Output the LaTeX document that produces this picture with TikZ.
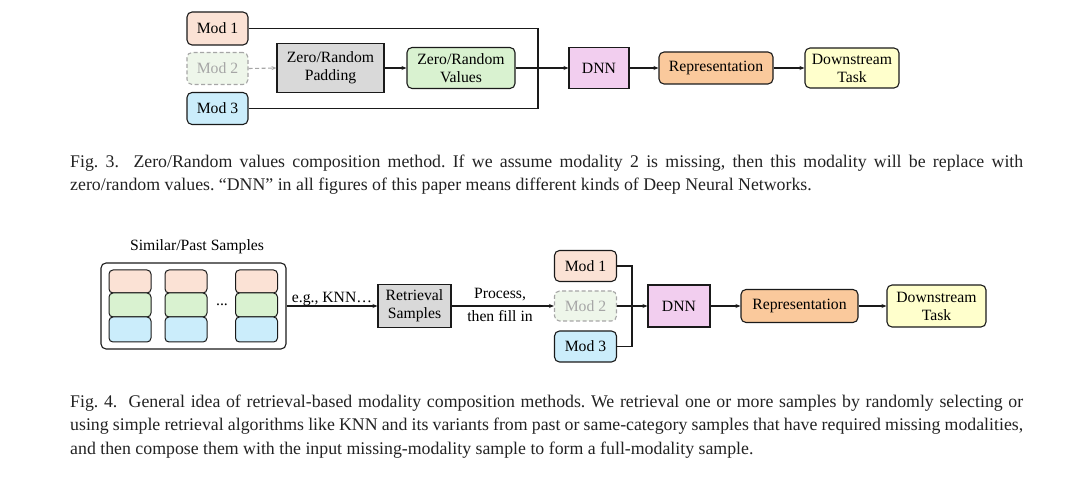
\documentclass[tikz,border=0pt]{standalone}
\usepackage{fontspec}
\setmainfont{Liberation Serif}
\usetikzlibrary{arrows.meta}
\definecolor{cmodA}{HTML}{FBE2D5}
\definecolor{cmodB}{HTML}{EEF6EA}
\definecolor{cmodC}{HTML}{CBEDFB}
\definecolor{cgray}{HTML}{D9D9D9}
\definecolor{cgreen}{HTML}{D9F2D0}
\definecolor{cdnn}{HTML}{F2CEEF}
\definecolor{crep}{HTML}{FAC99C}
\definecolor{ctask}{HTML}{FFFFCC}
\definecolor{cline}{HTML}{1A1A1A}
\definecolor{cfaint}{HTML}{A6A6A6}
\definecolor{ccap}{HTML}{222222}
\begin{document}
\frenchspacing
\begin{tikzpicture}[x=1pt,y=-1pt,
  box/.style={draw=cline, line width=1.1pt, rounded corners=5pt, inner sep=0pt, align=center,
    font=\fontsize{15.7}{18}\selectfont},
  sqbox/.style={box, rounded corners=0pt},
  missbox/.style={box, draw=cfaint, dash pattern=on 4pt off 2.5pt, fill=cmodB, text=cfaint},
  arr/.style={draw=cline, line width=1.1pt, -{Stealth[length=5pt,width=4pt]}},
  conn/.style={draw=cline, line width=1.1pt},
  blk/.style={draw=cline, line width=1pt, rounded corners=4pt, minimum width=42pt, inner sep=0pt},
  lbl/.style={font=\fontsize{15.7}{18}\selectfont, inner sep=1pt, align=center},
  captxt/.style={anchor=base west, inner sep=0pt, text=ccap, font=\fontsize{17.8}{20}\selectfont}
]
\useasboundingbox (0,0) rectangle (1080,486);

% ---------- Fig. 3 ----------
\node[box, fill=cmodA, minimum width=61pt, minimum height=33pt] (m1) at (217.5,28.5) {Mod 1};
\node[missbox, minimum width=61pt, minimum height=32pt] (m2) at (217.5,68.5) {Mod 2};
\node[box, fill=cmodC, minimum width=61pt, minimum height=32pt] (m3) at (217.5,108.5) {Mod 3};
\node[sqbox, fill=cgray, minimum width=107pt, minimum height=49pt] (pad) at (330.5,68) {Zero/Random\\Padding};
\node[box, fill=cgreen, minimum width=108pt, minimum height=41pt] (val) at (461,68) {Zero/Random\\Values};
\node[sqbox, fill=cdnn, minimum width=60pt, minimum height=41pt] (dnn) at (599,68) {DNN};
\node[box, fill=crep, minimum width=114pt, minimum height=32pt] (rep) at (716,68) {Representation};
\node[box, fill=ctask, minimum width=94pt, minimum height=40pt] (task) at (852,68) {Downstream\\Task};
\coordinate (j1) at (538,68);

\draw[arr, draw=cfaint, dash pattern=on 4pt off 2.5pt] (m2.east) -- (pad.west);
\draw[arr] (pad.east) -- (val.west);
\draw[conn] (m1.east) -| (j1);
\draw[conn] (m3.east) -| (j1);
\draw[arr] (val.east) -- (dnn.west);
\draw[arr] (dnn.east) -- (rep.west);
\draw[arr] (rep.east) -- (task.west);

\node[captxt] (c3a) at (70,168) {\makebox[953pt][s]{Fig. 3.\ \ Zero/Random values composition method. If we assume modality 2 is missing, then this modality will be replace with}};
\node[captxt] (c3b) at (70,191) {zero/random values. “DNN” in all figures of this paper means different kinds of Deep Neural Networks.};

% ---------- Fig. 4 ----------
\node[lbl] (ptitle) at (197,247) {Similar/Past Samples};
\node[draw=cline, line width=1.1pt, rounded corners=5pt, minimum width=185pt, minimum height=86pt, inner sep=0pt] (pool) at (193.5,306) {};
% sample columns
\foreach \c/\x in {a/130, b/186, c/256.5} {
  \node[blk, fill=cmodA, minimum height=23pt] (s\c1) at (\x,281.5) {};
  \node[blk, fill=cgreen, minimum height=24pt] (s\c2) at (\x,305) {};
  \node[blk, fill=cmodC, minimum height=25pt] (s\c3) at (\x,329.5) {};
}
\node[lbl] (dots) at (222,305) {...};

\node[sqbox, fill=cgray, minimum width=73pt, minimum height=43pt] (ret) at (414.5,306) {Retrieval\\Samples};
\draw[arr] (pool.east) -- (ret.west) node[lbl, midway, above, yshift=-1pt] (knn) {e.g., KNN…};

\node[box, fill=cmodA, minimum width=62pt, minimum height=31pt] (bm1) at (585.5,266) {Mod 1};
\node[missbox, minimum width=62pt, minimum height=30pt] (bm2) at (585.5,306) {Mod 2};
\node[box, fill=cmodC, minimum width=62pt, minimum height=31pt] (bm3) at (585.5,346.5) {Mod 3};
\draw[arr] (ret.east) -- (bm2.west);
\node[lbl] (proc) at (500,295) {Process,};
\node[lbl] (fill) at (500,316) {then fill in};

\node[sqbox, fill=cdnn, minimum width=62pt, minimum height=42pt] (bdnn) at (679,306) {DNN};
\node[box, fill=crep, minimum width=117pt, minimum height=33pt] (brep) at (799.5,306) {Representation};
\node[box, fill=ctask, minimum width=99pt, minimum height=42pt] (btask) at (936.5,306) {Downstream\\Task};
\coordinate (j2) at (632,306);
\draw[conn] (bm1.east) -| (j2);
\draw[conn] (bm3.east) -| (j2);
\draw[arr] (bm2.east) -- (bdnn.west);
\draw[arr] (bdnn.east) -- (brep.west);
\draw[arr] (brep.east) -- (btask.west);

\node[captxt] (c4a) at (70,408) {\makebox[953pt][s]{Fig. 4.\ \ General idea of retrieval-based modality composition methods. We retrieval one or more samples by randomly selecting or}};
\node[captxt] (c4b) at (70,431) {\makebox[953pt][s]{using simple retrieval algorithms like KNN and its variants from past or same-category samples that have required missing modalities,}};
\node[captxt] (c4c) at (70,454) {and then compose them with the input missing-modality sample to form a full-modality sample.};
\end{tikzpicture}
\end{document}
